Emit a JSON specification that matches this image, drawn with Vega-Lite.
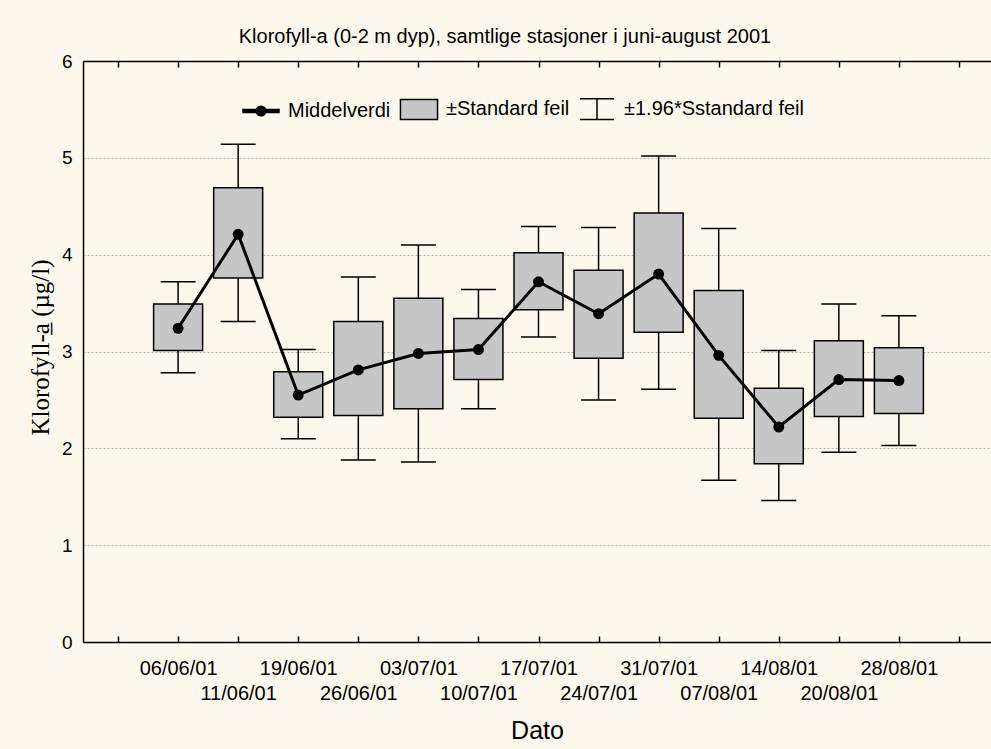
{
  "$schema": "https://vega.github.io/schema/vega-lite/v6.json",
  "width": 908,
  "height": 581,
  "autosize": {"type": "none"},
  "padding": {"left": 83, "top": 61, "right": 0, "bottom": 107},
  "background": "#fcf8ee",
  "config": {
    "view": {"fill": "white", "stroke": null},
    "font": "Liberation Sans",
    "legend": {"orient": "none", "legendX": 159, "legendY": 29, "direction": "horizontal", "title": null, "labelFontSize": 20, "labelFont": "Liberation Sans", "labelColor": "black", "labelLimit": 400, "symbolSize": 1296, "labelOffset": 8, "columnPadding": 6, "padding": 0, "symbolStrokeWidth": 1.5}
  },
  "title": {"text": "Klorofyll-a (0-2 m dyp), samtlige stasjoner i juni-august 2001", "fontSize": 20, "font": "Liberation Sans", "fontWeight": "normal", "color": "black", "dx": -32, "offset": -5, "baseline": "middle", "frame": "group"},
  "data": {"values": [
    {"nr": 1, "dato": "06/06/01", "middel": 3.24, "se_lo": 3.01, "se_hi": 3.49, "ci_lo": 2.78, "ci_hi": 3.72},
    {"nr": 2, "dato": "11/06/01", "middel": 4.21, "se_lo": 3.76, "se_hi": 4.69, "ci_lo": 3.31, "ci_hi": 5.14},
    {"nr": 3, "dato": "19/06/01", "middel": 2.55, "se_lo": 2.32, "se_hi": 2.79, "ci_lo": 2.10, "ci_hi": 3.02},
    {"nr": 4, "dato": "26/06/01", "middel": 2.81, "se_lo": 2.34, "se_hi": 3.31, "ci_lo": 1.88, "ci_hi": 3.77},
    {"nr": 5, "dato": "03/07/01", "middel": 2.98, "se_lo": 2.41, "se_hi": 3.55, "ci_lo": 1.86, "ci_hi": 4.10},
    {"nr": 6, "dato": "10/07/01", "middel": 3.02, "se_lo": 2.71, "se_hi": 3.34, "ci_lo": 2.41, "ci_hi": 3.64},
    {"nr": 7, "dato": "17/07/01", "middel": 3.72, "se_lo": 3.43, "se_hi": 4.02, "ci_lo": 3.15, "ci_hi": 4.29},
    {"nr": 8, "dato": "24/07/01", "middel": 3.39, "se_lo": 2.93, "se_hi": 3.84, "ci_lo": 2.50, "ci_hi": 4.28},
    {"nr": 9, "dato": "31/07/01", "middel": 3.80, "se_lo": 3.20, "se_hi": 4.43, "ci_lo": 2.61, "ci_hi": 5.02},
    {"nr": 10, "dato": "07/08/01", "middel": 2.96, "se_lo": 2.31, "se_hi": 3.63, "ci_lo": 1.67, "ci_hi": 4.27},
    {"nr": 11, "dato": "14/08/01", "middel": 2.22, "se_lo": 1.84, "se_hi": 2.62, "ci_lo": 1.46, "ci_hi": 3.01},
    {"nr": 12, "dato": "20/08/01", "middel": 2.71, "se_lo": 2.33, "se_hi": 3.11, "ci_lo": 1.96, "ci_hi": 3.49},
    {"nr": 13, "dato": "28/08/01", "middel": 2.70, "se_lo": 2.36, "se_hi": 3.04, "ci_lo": 2.03, "ci_hi": 3.37}
  ]},
  "resolve": {"axis": {"x": "independent", "y": "independent"}},
  "layer": [
    {
      "mark": {"type": "rule", "color": "black", "strokeWidth": 1.5},
      "encoding": {
        "x": {"field": "nr", "type": "quantitative", "scale": {"domain": [-0.5, 14.45], "nice": false, "zero": false},
          "axis": {"orient": "bottom", "values": [0,1,2,3,4,5,6,7,8,9,10,11,12,13,14], "grid": false, "domainColor": "black", "domainWidth": 1.5, "tickColor": "black", "tickWidth": 1.5, "tickSize": -6, "labelPadding": 22, "labelFontSize": 20, "labelFont": "Liberation Sans", "labelColor": "black", "labelLineHeight": 25, "labelBaseline": "top", "labelOverlap": false, "labelFlush": false,
            "labelExpr": "datum.value >= 1 && datum.value <= 13 ? (datum.value % 2 == 1 ? [['', '06/06/01','11/06/01','19/06/01','26/06/01','03/07/01','10/07/01','17/07/01','24/07/01','31/07/01','07/08/01','14/08/01','20/08/01','28/08/01'][datum.value]] : ['', ['', '06/06/01','11/06/01','19/06/01','26/06/01','03/07/01','10/07/01','17/07/01','24/07/01','31/07/01','07/08/01','14/08/01','20/08/01','28/08/01'][datum.value]]) : ''",
            "title": "Dato", "titleFontSize": 25, "titleFont": "Liberation Sans", "titleFontWeight": "normal", "titleColor": "black", "titlePadding": 15}},
        "y": {"field": "ci_lo", "type": "quantitative", "scale": {"domain": [0, 6], "nice": false},
          "axis": {"orient": "left", "values": [0,1,2,3,4,5,6], "ticks": false, "domainColor": "black", "domainWidth": 1.5, "labelPadding": 11, "labelFontSize": 19, "labelFont": "Liberation Sans", "labelColor": "black", "grid": true, "gridColor": "#b4b4b4", "gridDash": [2, 2], "gridWidth": 1,
            "title": "Klorofyll-a̲ (µg/l)", "titleFont": "Liberation Serif", "titleFontSize": 25, "titleFontWeight": "normal", "titleColor": "black", "titleAngle": -90, "titleX": -43, "titleY": 286, "titleAlign": "center", "titleBaseline": "middle"}},
        "y2": {"field": "ci_hi"}
      }
    },
    {
      "mark": {"type": "tick", "orient": "horizontal", "color": "black", "size": 35, "thickness": 1.5, "opacity": 1},
      "encoding": {
        "x": {"field": "nr", "type": "quantitative",
          "axis": {"orient": "top", "values": [0,1,2,3,4,5,6,7,8,9,10,11,12,13,14], "labels": false, "grid": false, "domainColor": "black", "domainWidth": 1.5, "tickColor": "black", "tickWidth": 1.5, "tickSize": -6, "title": null}},
        "y": {"field": "ci_lo", "type": "quantitative", "axis": null}
      }
    },
    {
      "mark": {"type": "tick", "orient": "horizontal", "color": "black", "size": 35, "thickness": 1.5, "opacity": 1},
      "encoding": {
        "x": {"field": "nr", "type": "quantitative", "axis": null},
        "y": {"field": "ci_hi", "type": "quantitative", "axis": null}
      }
    },
    {
      "mark": {"type": "bar", "size": 49, "fill": "#c6c6c6", "stroke": "black", "strokeWidth": 1.5},
      "encoding": {
        "x": {"field": "nr", "type": "quantitative", "axis": null},
        "y": {"field": "se_lo", "type": "quantitative", "axis": null},
        "y2": {"field": "se_hi"}
      }
    },
    {
      "mark": {"type": "line", "color": "black", "strokeWidth": 3},
      "encoding": {
        "x": {"field": "nr", "type": "quantitative", "axis": null},
        "y": {"field": "middel", "type": "quantitative", "axis": null}
      }
    },
    {
      "mark": {"type": "point", "filled": true, "color": "black", "size": 120, "opacity": 1},
      "encoding": {
        "x": {"field": "nr", "type": "quantitative", "axis": null},
        "y": {"field": "middel", "type": "quantitative", "axis": null}
      }
    },
    {
      "data": {"values": [{"serie": "Middelverdi"}, {"serie": "±Standard feil"}, {"serie": "±1.96*Sstandard feil"}]},
      "transform": [{"filter": "false"}],
      "mark": {"type": "point", "filled": true, "opacity": 1},
      "encoding": {
        "shape": {"field": "serie", "type": "nominal", "scale": {"domain": ["Middelverdi", "±Standard feil", "±1.96*Sstandard feil"], "range": ["M-1,-0.09H1V0.09H-1Z M-0.27,0A0.27,0.27 0 1,1 0.27,0A0.27,0.27 0 1,1 -0.27,0Z", "M-1.03,-0.56H1.03V0.56H-1.03Z", "M-0.95,-0.6H0.95M0,-0.6V0.56M-0.95,0.56H0.95"]}},
        "fill": {"field": "serie", "type": "nominal", "scale": {"domain": ["Middelverdi", "±Standard feil", "±1.96*Sstandard feil"], "range": ["black", "#c6c6c6", "black"]}},
        "stroke": {"field": "serie", "type": "nominal", "scale": {"domain": ["Middelverdi", "±Standard feil", "±1.96*Sstandard feil"], "range": ["black", "black", "black"]}}
      }
    }
  ]
}
